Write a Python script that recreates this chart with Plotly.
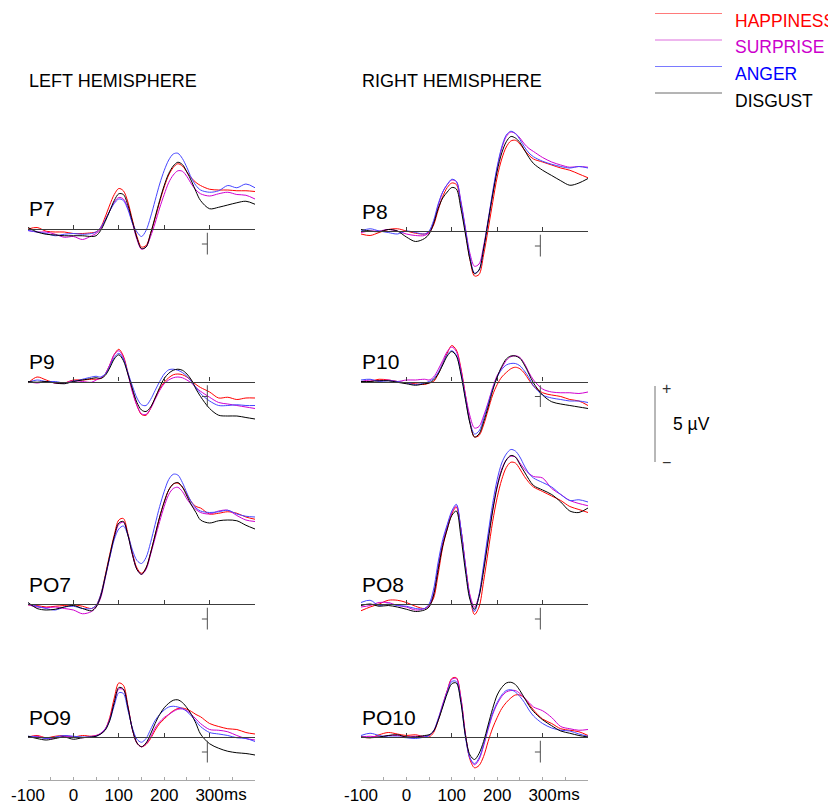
import plotly.graph_objects as go

# page body has an 8 px margin; figure coordinates are given in page pixels
OFF = 8
W, H = 836 - OFF, 805 - OFF

# time points (ms)
T = [-100, -80, -60, -40, -20, 0, 20, 40, 50, 60, 70, 80, 90, 100, 110, 120, 130, 140, 150, 160,
     170, 180, 190, 200, 210, 220, 230, 240, 250, 260, 270, 280, 300, 320, 340, 360, 380, 400]

CONDITIONS = ["HAPPINESS", "SURPRISE", "ANGER", "DISGUST"]
TRACE_COLORS = ["#ff0000", "#d000d0", "#4646ff", "#000000"]
LEGEND_LINE_COLORS = ["#ff7a7a", "#dd6edd", "#7a7aff", "#6a6a6a"]
TEXT_COLORS = ["#ff0000", "#cc00cc", "#0000ff", "#000000"]

# amplitudes (µV)
P7_HAP = [0.0,0.1,-0.15,-0.2,-0.2,-0.3,-0.3,-0.25,-0.2,0.1,0.8,1.6,2.3,2.7,2.55,1.8,0.6,-0.5,-1.2,-1.1,-0.3,0.7,1.8,2.8,3.6,4.1,4.35,4.2,3.8,3.4,3.1,2.9,2.65,2.6,2.6,2.55,2.55,2.5]
P7_SUR = [-0.1,-0.2,-0.2,-0.35,-0.55,-0.5,-0.7,-0.45,-0.3,0.0,0.6,1.2,1.8,2.1,2.0,1.4,0.4,-0.7,-1.35,-1.2,-0.5,0.4,1.4,2.3,3.1,3.6,3.88,3.85,3.5,3.0,2.6,2.35,2.2,2.35,2.45,2.3,2.25,2.0]
P7_ANG = [-0.1,-0.2,-0.3,-0.45,-0.35,-0.3,-0.35,-0.3,-0.2,0.1,0.6,1.2,1.7,2.0,1.9,1.3,0.4,-0.2,-0.5,-0.1,0.8,1.9,3.0,3.9,4.6,5.0,5.05,4.7,4.1,3.4,2.9,2.6,2.45,2.55,2.9,2.75,3.0,2.75]
P7_DIS = [0.1,-0.2,-0.35,-0.4,-0.45,-0.45,-0.45,-0.5,-0.45,-0.1,0.5,1.2,1.9,2.35,2.3,1.6,0.5,-0.6,-1.3,-1.2,-0.3,0.8,1.9,2.9,3.7,4.2,4.45,4.3,3.8,3.2,2.5,1.9,1.35,1.45,1.6,1.75,1.85,1.65]

P8_HAP = [-0.2,-0.3,-0.1,0.1,0.15,0.0,-0.15,-0.2,-0.1,0.4,1.4,2.3,2.9,3.2,3.1,1.8,0.0,-1.9,-3.0,-2.9,-1.6,0.1,1.9,3.6,4.8,5.6,6.0,6.05,5.8,5.4,5.05,4.8,4.6,4.4,4.2,4.05,3.8,3.55]
P8_SUR = [-0.1,0.0,0.0,0.1,0.0,-0.2,-0.3,-0.3,-0.1,0.6,1.7,2.6,3.1,3.4,3.3,2.0,0.2,-1.5,-2.35,-2.2,-1.0,0.7,2.5,4.2,5.5,6.3,6.6,6.5,6.2,5.8,5.5,5.3,4.9,4.6,4.4,4.25,4.3,4.25]
P8_ANG = [0.0,0.15,0.0,-0.1,-0.2,0.0,-0.1,-0.2,0.0,0.7,1.8,2.6,3.1,3.45,3.3,1.9,0.1,-1.7,-2.8,-2.6,-1.2,0.7,2.6,4.3,5.6,6.4,6.65,6.5,6.1,5.6,5.2,4.95,4.65,4.45,4.3,4.2,4.3,4.2]
P8_DIS = [0.1,0.0,-0.05,0.1,0.0,-0.4,-0.7,-0.5,-0.2,0.5,1.5,2.2,2.6,2.9,2.8,1.5,-0.2,-1.9,-2.85,-2.6,-1.2,0.6,2.4,4.0,5.2,5.95,6.3,6.2,5.9,5.4,4.9,4.5,4.05,3.7,3.35,3.05,3.2,3.5]

P9_HAP = [-0.1,0.3,0.1,-0.1,-0.1,0.1,0.1,0.15,0.15,0.2,0.5,1.1,1.8,2.15,1.7,0.6,-0.6,-1.6,-2.2,-2.25,-1.8,-1.1,-0.5,-0.05,0.25,0.45,0.5,0.45,0.3,0.05,-0.2,-0.4,-0.7,-1.1,-1.05,-1.2,-1.1,-1.1]
P9_SUR = [0.0,-0.1,0.0,-0.1,-0.1,0.05,0.0,-0.05,0.1,0.25,0.5,1.1,1.8,2.05,1.6,0.5,-0.7,-1.6,-2.15,-2.2,-1.8,-1.2,-0.6,-0.15,0.1,0.25,0.3,0.25,0.1,-0.1,-0.4,-0.65,-1.05,-1.4,-1.5,-1.6,-1.7,-1.8]
P9_ANG = [-0.05,0.1,0.0,0.0,-0.1,0.0,0.15,0.3,0.35,0.3,0.5,1.0,1.6,1.88,1.5,0.6,-0.3,-1.1,-1.55,-1.6,-1.2,-0.6,0.0,0.5,0.78,0.82,0.75,0.6,0.35,0.0,-0.4,-0.8,-1.3,-1.6,-1.6,-1.55,-1.6,-1.6]
P9_DIS = [0.0,-0.05,0.0,-0.1,-0.15,0.0,0.1,0.2,0.25,0.2,0.4,0.9,1.5,1.78,1.4,0.5,-0.5,-1.4,-1.9,-2.0,-1.7,-1.1,-0.4,0.2,0.55,0.75,0.82,0.75,0.5,0.1,-0.5,-1.0,-1.8,-2.25,-2.3,-2.3,-2.4,-2.5]

P10_HAP = [-0.05,0.0,0.15,0.1,0.0,-0.1,-0.15,-0.2,-0.1,0.0,0.5,1.2,1.9,2.4,2.1,0.9,-0.9,-2.7,-3.7,-3.6,-2.9,-1.9,-0.9,-0.2,0.3,0.6,0.85,0.95,0.85,0.55,0.1,-0.3,-0.75,-0.9,-1.0,-1.2,-1.3,-1.6]
P10_SUR = [0.0,0.1,0.05,0.1,0.0,0.1,0.1,0.15,0.1,0.3,0.8,1.4,2.0,2.3,2.0,0.8,-0.9,-2.3,-3.1,-3.0,-2.3,-1.4,-0.4,0.4,0.9,1.4,1.65,1.72,1.6,1.2,0.6,0.1,-0.5,-0.7,-0.75,-0.75,-0.8,-0.7]
P10_ANG = [0.1,0.15,0.0,0.05,0.0,-0.1,-0.2,-0.1,0.0,0.2,0.6,1.2,1.8,2.05,1.75,0.6,-1.1,-2.7,-3.5,-3.3,-2.5,-1.5,-0.5,0.3,0.8,1.1,1.2,1.2,1.05,0.7,0.25,-0.3,-0.9,-1.1,-1.2,-1.3,-1.3,-1.4]
P10_DIS = [0.0,0.0,0.05,0.05,-0.05,-0.15,-0.25,-0.15,-0.1,0.1,0.5,1.1,1.7,2.0,1.7,0.5,-1.2,-2.8,-3.7,-3.5,-2.7,-1.7,-0.6,0.3,1.0,1.5,1.7,1.7,1.55,1.1,0.5,-0.1,-0.9,-1.35,-1.5,-1.6,-1.7,-1.8]

PO7_HAP = [-0.05,-0.1,-0.2,-0.15,-0.1,-0.05,-0.15,-0.3,-0.1,0.6,1.9,3.3,4.6,5.6,5.7,4.7,3.4,2.4,2.05,2.4,3.4,4.6,5.8,6.8,7.6,8.0,8.05,7.8,7.3,6.8,6.5,6.4,6.0,6.05,6.15,6.05,5.8,5.65]
PO7_SUR = [-0.05,-0.2,-0.25,-0.2,-0.3,-0.4,-0.65,-0.5,-0.2,0.4,1.7,3.1,4.4,5.3,5.45,4.6,3.3,2.3,1.98,2.3,3.3,4.4,5.5,6.5,7.3,7.7,7.78,7.5,7.0,6.6,6.3,6.1,6.0,6.2,6.25,5.9,5.6,5.5]
PO7_ANG = [0.0,-0.15,-0.3,-0.4,-0.2,-0.15,-0.3,-0.3,-0.1,0.6,1.8,3.1,4.3,5.0,5.2,4.6,3.6,2.9,2.7,3.1,4.1,5.3,6.5,7.5,8.3,8.65,8.6,8.1,7.4,6.8,6.4,6.2,6.1,6.15,6.25,6.0,5.85,5.8]
PO7_DIS = [0.1,-0.3,-0.4,-0.35,-0.2,-0.1,-0.3,-0.45,-0.2,0.5,1.8,3.2,4.5,5.4,5.5,4.6,3.3,2.3,1.98,2.4,3.4,4.6,5.8,6.8,7.6,8.0,8.1,7.8,7.2,6.6,6.1,5.6,5.4,5.55,5.6,5.55,5.25,5.0]

PO8_HAP = [-0.45,-0.2,0.0,0.25,0.25,0.1,-0.15,-0.3,-0.1,0.4,2.0,3.8,5.0,6.0,6.45,5.0,2.6,0.5,-0.7,-0.2,1.5,3.5,5.5,7.1,8.3,9.1,9.45,9.4,9.0,8.5,8.1,7.8,7.5,7.2,6.9,6.5,6.3,6.1]
PO8_SUR = [-0.2,-0.1,0.1,0.1,-0.1,-0.2,-0.4,-0.3,-0.1,0.7,2.5,4.1,5.2,6.1,6.55,5.0,2.6,0.6,-0.2,0.6,2.4,4.4,6.3,7.9,9.0,9.6,9.85,9.8,9.4,9.0,8.7,8.5,8.4,7.7,7.3,6.9,6.7,6.55]
PO8_ANG = [0.1,0.25,-0.1,0.0,-0.1,-0.15,-0.3,-0.3,0.0,1.0,2.8,4.3,5.3,6.2,6.65,5.0,2.5,0.4,-0.5,0.6,2.6,4.7,6.7,8.3,9.4,10.0,10.3,10.2,9.8,9.2,8.7,8.4,8.1,7.8,7.3,6.9,6.95,6.8]
PO8_DIS = [-0.1,0.0,-0.15,-0.1,-0.2,-0.35,-0.5,-0.4,-0.2,0.6,2.3,3.9,5.0,5.9,6.2,4.5,2.2,0.3,-0.35,0.5,2.2,4.2,6.2,7.8,8.9,9.6,9.9,9.8,9.3,8.8,8.3,7.9,7.6,7.3,6.8,6.2,6.1,6.4]

PO9_HAP = [0.0,0.1,-0.05,0.05,0.1,0.0,0.1,0.05,0.1,0.2,0.5,1.3,2.6,3.6,3.45,2.1,0.5,-0.4,-0.65,-0.5,-0.1,0.45,0.9,1.2,1.5,1.75,1.9,1.93,1.85,1.7,1.5,1.35,0.9,0.7,0.55,0.5,0.3,0.2]
PO9_SUR = [0.0,0.05,-0.1,-0.05,0.05,0.0,-0.05,0.05,0.1,0.25,0.55,1.2,2.3,3.2,3.15,2.0,0.5,-0.4,-0.65,-0.45,0.0,0.6,1.0,1.3,1.5,1.7,1.85,1.87,1.75,1.5,1.2,0.9,0.5,0.45,0.35,0.1,-0.1,-0.2]
PO9_ANG = [0.05,0.0,-0.1,0.0,0.1,0.05,0.0,0.0,0.05,0.2,0.5,1.1,2.1,2.95,2.9,1.8,0.6,-0.15,-0.35,-0.1,0.5,1.1,1.5,1.8,2.0,2.05,2.0,1.9,1.7,1.4,1.05,0.7,0.3,0.2,0.1,-0.05,-0.1,-0.3]
PO9_DIS = [0.05,-0.1,-0.2,-0.1,0.0,-0.15,-0.05,0.0,0.05,0.2,0.45,1.1,2.3,3.3,3.2,2.0,0.5,-0.4,-0.65,-0.4,0.2,0.9,1.5,1.95,2.25,2.45,2.48,2.3,1.95,1.5,0.9,0.2,-0.45,-0.75,-0.95,-1.05,-1.1,-1.2]

PO10_HAP = [0.0,-0.05,0.15,0.3,0.2,0.1,0.15,0.0,0.0,0.3,1.1,2.1,3.1,3.9,3.95,2.6,0.2,-1.5,-2.05,-1.9,-1.3,-0.3,0.6,1.3,1.9,2.3,2.6,2.8,2.8,2.6,2.2,1.8,1.2,0.9,0.55,0.45,0.35,0.1]
PO10_SUR = [0.0,0.05,0.0,0.1,0.1,0.0,0.05,0.05,0.1,0.4,1.2,2.2,3.1,3.85,3.9,2.6,0.2,-1.4,-1.85,-1.5,-0.6,0.5,1.5,2.2,2.7,3.0,3.1,3.1,2.9,2.6,2.3,2.0,1.75,1.3,0.7,0.55,0.45,0.5]
PO10_ANG = [0.1,0.25,0.1,0.0,0.0,-0.05,-0.1,0.0,0.1,0.4,1.2,2.1,3.0,3.7,3.7,2.4,0.0,-1.4,-1.78,-1.4,-0.5,0.6,1.6,2.3,2.8,3.1,3.15,3.0,2.7,2.3,1.8,1.4,0.9,0.6,0.45,0.4,0.2,0.05]
PO10_DIS = [0.0,-0.05,0.0,0.1,0.15,0.0,0.0,0.1,0.15,0.4,1.1,2.0,2.9,3.55,3.6,2.3,0.1,-1.2,-1.5,-1.1,-0.3,0.8,1.9,2.8,3.3,3.6,3.65,3.5,3.1,2.6,2.1,1.7,1.15,0.75,0.4,0.25,0.1,0.0]

AXIS_TICKS = [0, 100, 200, 300]
BOTTOM_TICKS = [-100, -50, 0, 50, 100, 150, 200, 250, 300, 350, 400]
BOTTOM_LABELS = ["-100", "", "0", "", "100", "", "200", "", "300", "", ""]

# (label, column, zero-line page pixel, series)
PANELS = [
    ("P7", 0, 229, [P7_HAP, P7_SUR, P7_ANG, P7_DIS]),
    ("P8", 1, 231, [P8_HAP, P8_SUR, P8_ANG, P8_DIS]),
    ("P9", 0, 381.5, [P9_HAP, P9_SUR, P9_ANG, P9_DIS]),
    ("P10", 1, 381.5, [P10_HAP, P10_SUR, P10_ANG, P10_DIS]),
    ("PO7", 0, 604, [PO7_HAP, PO7_SUR, PO7_ANG, PO7_DIS]),
    ("PO8", 1, 604, [PO8_HAP, PO8_SUR, PO8_ANG, PO8_DIS]),
    ("PO9", 0, 737, [PO9_HAP, PO9_SUR, PO9_ANG, PO9_DIS]),
    ("PO10", 1, 737, [PO10_HAP, PO10_SUR, PO10_ANG, PO10_DIS]),
]

for p in PANELS:
    for s in p[3]:
        assert len(s) == len(T), (p[0], len(s))


def px(x):
    return (x - OFF) / W


def py(y):
    return 1 - (y - OFF) / H


FONT = "Liberation Sans, Arial, sans-serif"
COLX = [(28, 255), (361, 588)]
PX_PER_UV = 15.0
Y_LO, Y_HI = -4.0, 11.0
BOTTOM_AXIS_Y = 780

fig = go.Figure()
layout = dict(
    template="none",
    width=W, height=H, margin=dict(l=0, r=0, t=0, b=0, pad=0), autosize=False,
    paper_bgcolor="white", plot_bgcolor="rgba(0,0,0,0)",
    showlegend=False, font=dict(family=FONT, color="black"),
)
shapes, annotations = [], []

for i, (label, col, zero, series) in enumerate(PANELS, start=1):
    x0, x1 = COLX[col]
    top = zero - Y_HI * PX_PER_UV
    bot = zero - Y_LO * PX_PER_UV
    layout[f"xaxis{i}"] = dict(
        domain=[px(x0), px(x1)], range=[-100, 400], anchor="free",
        position=py(zero), showline=True, linecolor="#3c3c3c", linewidth=1.3,
        ticks="inside", tickvals=AXIS_TICKS, ticklen=4, tickwidth=1, tickcolor="#3c3c3c",
        showticklabels=False, showgrid=False, zeroline=False, automargin=False,
    )
    layout[f"yaxis{i}"] = dict(
        domain=[py(bot), py(top)], range=[Y_LO, Y_HI], anchor=f"x{i}",
        visible=False, showgrid=False, zeroline=False, automargin=False,
    )
    for name, vals, c in zip(CONDITIONS, series, TRACE_COLORS):
        fig.add_trace(go.Scatter(
            x=T, y=vals, mode="lines", name=name,
            line=dict(color=c, width=1, shape="spline", smoothing=0.9),
            xaxis=f"x{i}", yaxis=f"y{i}", hoverinfo="skip",
        ))
    # small cursor marker
    shapes.append(dict(type="line", xref=f"x{i}", yref=f"y{i}", x0=295, x1=295,
                       y0=-0.25, y1=-1.7, line=dict(color="#505050", width=1)))
    shapes.append(dict(type="line", xref=f"x{i}", yref=f"y{i}", x0=283, x1=295,
                       y0=-1.0, y1=-1.0, line=dict(color="#505050", width=1)))
    annotations.append(dict(text=label, xref="paper", yref="paper",
                            x=px(x0 - 1), y=py(zero - 20),
                            xanchor="left", yanchor="middle", showarrow=False,
                            font=dict(size=21, family=FONT, color="black")))

# bottom time axes
for j, col in ((9, 0), (10, 1)):
    x0, x1 = COLX[col]
    layout[f"xaxis{j}"] = dict(
        domain=[px(x0), px(x1)], range=[-100, 400], anchor=f"y{j}",
        showline=True, linecolor="#a8a8a8", linewidth=1,
        ticks="inside", tickvals=BOTTOM_TICKS, ticktext=BOTTOM_LABELS,
        ticklen=3, tickcolor="#a8a8a8", tickwidth=1,
        tickfont=dict(size=17, family=FONT, color="black"),
        showgrid=False, zeroline=False, automargin=False, ticklabelstandoff=0,
    )
    layout[f"yaxis{j}"] = dict(domain=[py(BOTTOM_AXIS_Y), py(BOTTOM_AXIS_Y - 11)], range=[0, 1],
                               anchor=f"x{j}", visible=False, automargin=False)
    annotations.append(dict(text="ms", xref=f"x{j}", yref="paper", x=356, y=py(794),
                            xanchor="center", yanchor="middle", showarrow=False,
                            font=dict(size=17, family=FONT, color="black")))

# hemisphere titles
annotations.append(dict(text="LEFT HEMISPHERE", xref="paper", yref="paper", x=px(27),
                        y=py(81), xanchor="left", yanchor="middle", showarrow=False,
                        font=dict(size=18, family=FONT)))
annotations.append(dict(text="RIGHT HEMISPHERE", xref="paper", yref="paper", x=px(360),
                        y=py(81), xanchor="left", yanchor="middle", showarrow=False,
                        font=dict(size=18, family=FONT)))

# legend
for k, (name, lc, tc) in enumerate(zip(CONDITIONS, LEGEND_LINE_COLORS, TEXT_COLORS)):
    ly = 13.5 + k * 26.5
    shapes.append(dict(type="line", xref="paper", yref="paper", x0=px(655), x1=px(722),
                       y0=py(ly), y1=py(ly), line=dict(color=lc, width=1)))
    annotations.append(dict(text=name, xref="paper", yref="paper", x=px(733),
                            y=py(ly + 7.5), xanchor="left", yanchor="middle",
                            showarrow=False, font=dict(size=17.5, family=FONT, color=tc)))

# amplitude scale bar
shapes.append(dict(type="line", xref="paper", yref="paper", x0=px(655), x1=px(655),
                   y0=py(386), y1=py(462), line=dict(color="#707070", width=1)))
annotations.append(dict(text="+", xref="paper", yref="paper", x=px(666), y=py(388),
                        xanchor="center", yanchor="middle", showarrow=False,
                        font=dict(size=16, family=FONT, color="#333")))
annotations.append(dict(text="\u2212", xref="paper", yref="paper", x=px(666), y=py(462),
                        xanchor="center", yanchor="middle", showarrow=False,
                        font=dict(size=16, family=FONT, color="#333")))
annotations.append(dict(text="5 \u00b5V", xref="paper", yref="paper", x=px(671), y=py(424),
                        xanchor="left", yanchor="middle", showarrow=False,
                        font=dict(size=17.5, family=FONT)))

layout["shapes"] = shapes
layout["annotations"] = annotations
fig.update_layout(**layout)
fig.write_html("out.html")
